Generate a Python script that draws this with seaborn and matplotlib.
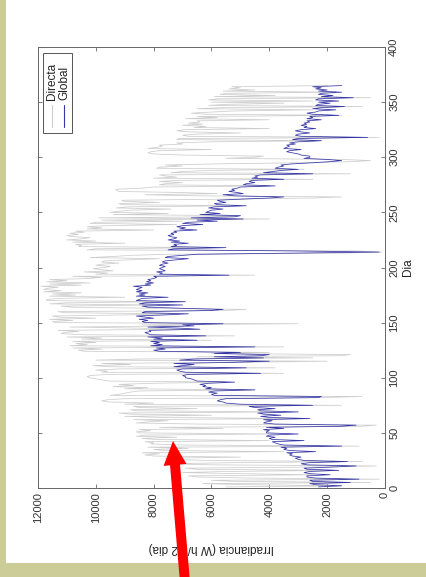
import matplotlib
matplotlib.use("Agg")
import matplotlib.pyplot as plt
import seaborn as sns
import pandas as pd
from matplotlib.patches import Rectangle, FancyArrow
from matplotlib.transforms import IdentityTransform

sns.set_style("white")
plt.rcParams['font.family'] = ['Liberation Sans', 'DejaVu Sans']

# Daily irradiation, days 1..365
dia = list(range(1, 366))

directa = [
    5500, 1500, 4800, 6300, 500, 5200, 6000, 200, 4500, 6500,
    6800, 2500, 5000, 7000, 5500, 1800, 6500, 6900, 2500, 300,
    6000, 7500, 5200, 800, 6200, 7400, 7600, 5000, 8000, 8300,
    7800, 8400, 3500, 7600, 8000, 6800, 8200, 900, 7000, 8100,
    8000, 8300, 4000, 7900, 8400, 7200, 8600, 8300, 3800, 8500,
    8600, 8100, 8500, 5600, 7800, 800, 300, 6500, 8600, 8200,
    7500, 8700, 3000, 7800, 9000, 6000, 8800, 9200, 3500, 8600,
    8800, 6500, 8500, 8700, 1500, 9000, 8000, 9500, 9800, 9600,
    9000, 2200, 800, 9500, 9200, 9000, 8800, 8500, 4500, 9000,
    8200, 9400, 8700, 9200, 8000, 5500, 9500, 9800, 10000, 10200,
    10300, 10200, 9600, 3500, 9800, 9600, 10000, 9200, 3800, 9500,
    10100, 8800, 9800, 5000, 2000, 10000, 8500, 2500, 6500, 1500,
    1200, 6000, 4000, 10400, 10600, 9800, 10800, 3500, 10900, 10300,
    10700, 10000, 10800, 6000, 10500, 9800, 11000, 5200, 10400, 11200,
    11100, 10600, 11300, 6800, 8500, 10900, 7000, 8400, 3000, 11400,
    11500, 10800, 11600, 10000, 11300, 11500, 9000, 7200, 11100, 11300,
    5500, 4800, 8000, 10800, 11200, 8000, 11600, 11000, 7500, 11700,
    11700, 11200, 9000, 11600, 10700, 11500, 10500, 11800, 11200, 11800,
    11700, 11300, 11900, 10500, 11600, 10200, 11700, 11000, 11600, 10300,
    9800, 10800, 4500, 10000, 9600, 10400, 9400, 9800, 10100, 9700,
    9500, 10000, 9800, 9200, 9800, 9700, 8800, 7800, 10200, 9400,
    8800, 7500, 1500, 100, 1000, 10300, 10000, 6000, 10600, 10500,
    10700, 9000, 10800, 10000, 11000, 10500, 10200, 10800, 11000, 10600,
    10900, 10400, 10700, 8000, 10300, 9800, 10300, 9600, 7200, 10200,
    10000, 7000, 9800, 4000, 9900, 6000, 5000, 9400, 7500, 9500,
    9200, 8800, 7400, 9300, 8900, 5000, 9100, 9200, 7800, 9000,
    9100, 5500, 2500, 1500, 6500, 8300, 5800, 7000, 9200, 9300,
    9300, 8400, 8000, 4000, 7800, 7600, 7000, 7800, 7200, 2500,
    8000, 7200, 7600, 7800, 1200, 7400, 7000, 6200, 2800, 7900,
    7800, 7000, 7600, 5800, 3000, 1200, 500, 1500, 5500, 4500,
    4200, 7000, 8000, 8200, 8100, 7800, 6000, 8200, 7900, 7700,
    7800, 7000, 7200, 6000, 2200, 7200, 7100, 200, 6800, 7000,
    6500, 5000, 6800, 7200, 6900, 4000, 6600, 6200, 7000, 6300,
    6800, 6400, 6500, 4000, 6900, 5800, 6500, 1500, 6200, 6700,
    6000, 5200, 2500, 6500, 5600, 800, 6100, 5500, 3500, 6000,
    2500, 6100, 5800, 500, 5900, 3800, 5700, 5500, 1800, 5600,
    4500, 5400, 5000, 5300, 2000,
]

global_ = [
    2300, 1500, 2400, 2600, 1200, 2500, 2600, 900, 2400, 2700,
    2700, 1900, 2600, 2800, 2600, 1600, 2700, 2800, 1800, 1000,
    2700, 2900, 2600, 1300, 2800, 3000, 3100, 2900, 3200, 3300,
    3200, 3400, 2400, 3300, 3500, 3400, 3600, 1500, 3500, 3700,
    3800, 3900, 2800, 3900, 4000, 3800, 4100, 4000, 3000, 4100,
    4100, 4000, 4200, 3500, 4100, 1500, 1000, 3800, 4200, 4100,
    3900, 4200, 2600, 4000, 4300, 3600, 4200, 4400, 3000, 4300,
    4400, 3800, 4500, 4700, 2500, 5000, 5500, 5600, 5800, 5700,
    5500, 2300, 2200, 5900, 6000, 5800, 6100, 5900, 4500, 6200,
    6000, 6300, 6200, 6400, 6100, 5200, 6500, 6600, 6700, 6900,
    6900, 7000, 6800, 4300, 6900, 7100, 7200, 7000, 4800, 7300,
    7000, 6600, 7300, 5200, 4000, 7100, 6600, 4200, 5900, 4300,
    4000, 5900, 5000, 7800, 8000, 7600, 7900, 4500, 8100, 7700,
    8000, 7800, 8100, 6500, 8000, 7700, 8200, 6200, 8100, 8200,
    8300, 8100, 8150, 6400, 7100, 8200, 6600, 7000, 5600, 8300,
    8400, 8200, 8500, 8000, 8300, 8600, 7600, 6800, 8400, 8300,
    6000, 5600, 7000, 8200, 8400, 7000, 8500, 8300, 6900, 8600,
    8500, 8400, 7500, 8600, 8300, 8500, 8200, 8600, 8400, 8600,
    8500, 8400, 8700, 8100, 8300, 8000, 8250, 8100, 8200, 8000,
    7900, 8000, 5400, 7800, 7700, 7900, 7600, 7700, 7800, 7700,
    7600, 7800, 7700, 7500, 7700, 7600, 7200, 6800, 7600, 7500,
    7000, 6500, 3500, 200, 3000, 7500, 7300, 5500, 7400, 7200,
    7300, 6800, 7400, 7100, 7500, 7300, 7200, 7400, 7500, 7300,
    7400, 7200, 7300, 6500, 7100, 6900, 7200, 7000, 6300, 7000,
    6800, 5800, 6500, 4900, 6700, 5200, 5000, 6400, 5700, 6200,
    6100, 6000, 5600, 6100, 5900, 4800, 5800, 5900, 5500, 5700,
    5800, 5000, 4000, 3500, 5200, 5600, 4900, 5100, 5400, 5200,
    5300, 5100, 5000, 3800, 4900, 4800, 4500, 4700, 4600, 3500,
    4600, 4400, 4500, 4300, 2500, 4200, 3900, 3600, 3000, 3800,
    3700, 3500, 3600, 3200, 2500, 1900, 1500, 2000, 2800, 2600,
    2600, 2900, 3000, 3200, 3400, 3300, 2900, 3500, 3400, 3300,
    3400, 3100, 3300, 3000, 2200, 3200, 3000, 600, 2900, 3100,
    3000, 2600, 2900, 3100, 2900, 2400, 2800, 2700, 2900, 2700,
    2800, 2600, 2700, 2200, 2700, 2500, 2600, 1600, 2500, 2700,
    2400, 2300, 1700, 2500, 2200, 1400, 2400, 2300, 1900, 2300,
    1600, 2400, 2300, 1100, 2200, 1800, 2300, 2200, 1500, 2300,
    2000, 2400, 2200, 2500, 1500,
]

dia_ticks = [0, 50, 100, 150, 200, 250, 300, 350, 400]
irr_ticks = [0, 2000, 4000, 6000, 8000, 10000, 12000]

df = pd.DataFrame({'Dia': dia, 'Directa': directa, 'Global': global_})

W, H = 427, 577
fig = plt.figure(figsize=(W / 100, H / 100), dpi=100, facecolor='#cccc99')
# white sheet with khaki strip on the left and bottom
fig.patches.append(Rectangle((6 / W, 14 / H), 1, 1, transform=fig.transFigure,
                             facecolor='white', edgecolor='none', zorder=-10))

ax = fig.add_axes([38 / W, 89 / H, 347 / W, 441 / H])
ax.set_zorder(1)

grey = '#cdcdcd'
blue = '#3636a6'

# the chart is a rotated MATLAB plot: days run vertically, irradiance right-to-left
sns.lineplot(data=df, x='Directa', y='Dia', orient='y', sort=False, estimator=None,
             color=grey, lw=0.55, ax=ax)
sns.lineplot(data=df, x='Global', y='Dia', orient='y', sort=False, estimator=None,
             color=blue, lw=0.55, ax=ax)

ax.set_xlim(12000, 0)
ax.set_ylim(0, 400)
ax.set_xticks(irr_ticks)
ax.set_yticks(dia_ticks)
ax.set_xlabel('')
ax.set_ylabel('')
ax.yaxis.tick_right()
ax.tick_params(direction='in', length=3, width=0.6, colors='#333333', labelsize=8,
               top=True, bottom=True, left=True, right=True,
               labelleft=False, labelright=True, labeltop=False, labelbottom=True, pad=3)
ax.tick_params(color='#666666')
for lab in ax.get_xticklabels():
    lab.set_rotation(90)
    lab.set_ha('center')
    lab.set_va('top')
for lab in ax.get_yticklabels():
    lab.set_rotation(90)
    lab.set_ha('left')
    lab.set_va('center')
for s in ax.spines.values():
    s.set_color('#666666')
    s.set_linewidth(0.7)

ax.text(1.066, 0.5, 'Dia', rotation=90, ha='center', va='center', fontsize=8.5,
        color='#222222', transform=ax.transAxes)
ax.text(0.5, -0.136, 'Irradiancia (W h/m2 dia)', rotation=180, ha='center', va='center',
        fontsize=8.5, color='#222222', transform=ax.transAxes)

# legend, rotated like the rest of the figure
ax.add_patch(Rectangle((0.0144, 0.805), 0.0836, 0.181, transform=ax.transAxes,
                       facecolor='white', edgecolor='#555555', lw=0.7, zorder=5))
ax.plot([0.040, 0.040], [0.819, 0.868], color=grey, lw=0.8, transform=ax.transAxes, zorder=6)
ax.plot([0.076, 0.076], [0.819, 0.868], color=blue, lw=0.8, transform=ax.transAxes, zorder=6)
ax.text(0.040, 0.880, 'Directa', rotation=90, ha='center', va='bottom', fontsize=8.5,
        color='#222222', transform=ax.transAxes, zorder=6)
ax.text(0.076, 0.880, 'Global', rotation=90, ha='center', va='bottom', fontsize=8.5,
        color='#222222', transform=ax.transAxes, zorder=6)

# red arrow drawn over the picture (pixel coordinates, origin bottom-left)
arrow = FancyArrow(185, -5, -12, 141, width=10, head_width=23, head_length=24,
                   length_includes_head=True, color='#ff0000', lw=0,
                   transform=IdentityTransform(), zorder=10)
fig.add_artist(arrow)

fig.savefig('out.png', dpi=100)
